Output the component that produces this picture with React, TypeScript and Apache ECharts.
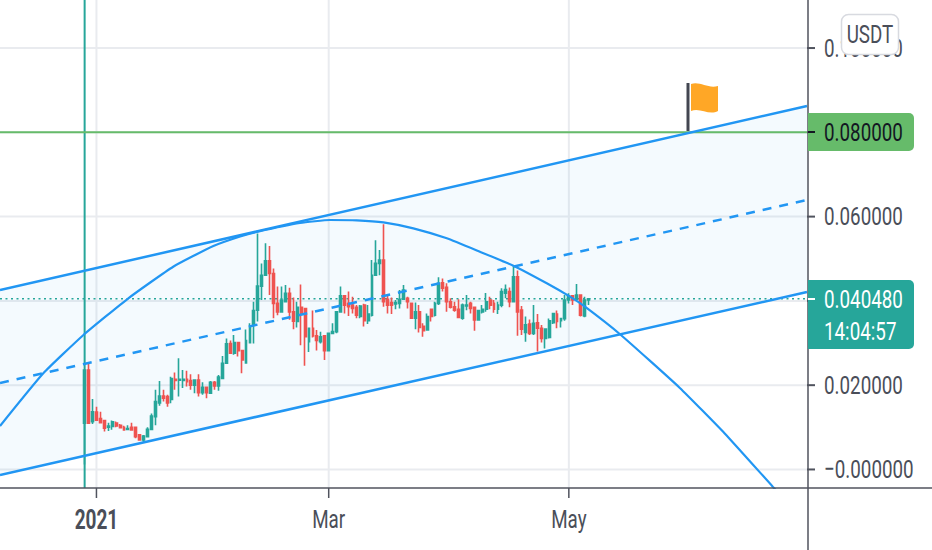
import React, { useEffect, useRef } from "react";
import * as echarts from "echarts";

// [open, close, low, high]
const candles: number[][] = [
  [0.01095,0.0236,0.0012,0.0236],[0.0236,0.011,0.011,0.0252],[0.01135,0.0137,0.0108,0.0167],[0.0136,0.0117,0.0117,0.0149],
  [0.0121,0.0111,0.011,0.0137],[0.0116,0.0098,0.009,0.0117],[0.01,0.0103,0.0091,0.0111],[0.0102,0.0113,0.0094,0.0116],
  [0.011,0.0103,0.01,0.0114],[0.0105,0.0099,0.0098,0.0108],[0.01,0.0094,0.0092,0.0104],[0.0095,0.0097,0.0094,0.0105],
  [0.01,0.0094,0.0094,0.0111],[0.01,0.0078,0.0074,0.01],[0.0082,0.007,0.0068,0.0082],[0.007,0.0079,0.0064,0.0082],
  [0.0078,0.0095,0.0078,0.01],[0.0095,0.0127,0.0094,0.0133],[0.0125,0.0161,0.0105,0.0189],[0.0158,0.0174,0.0151,0.021],
  [0.0174,0.0169,0.0161,0.0189],[0.0173,0.0158,0.0149,0.0177],[0.0166,0.0216,0.0157,0.022],[0.0214,0.0211,0.0189,0.023],
  [0.0212,0.0214,0.0173,0.0264],[0.0211,0.0214,0.0193,0.0236],[0.0214,0.0208,0.0197,0.0234],[0.0211,0.02,0.0189,0.0226],
  [0.02,0.0212,0.0181,0.0214],[0.0212,0.0182,0.0173,0.0226],[0.0182,0.0195,0.0177,0.0207],[0.0195,0.0182,0.0169,0.0197],
  [0.0181,0.0207,0.0181,0.021],[0.0207,0.0198,0.0189,0.021],[0.0198,0.0219,0.0187,0.0224],[0.0216,0.0252,0.0216,0.0269],
  [0.0252,0.0298,0.0252,0.0311],[0.0299,0.0276,0.0276,0.0306],[0.0276,0.0301,0.0272,0.0319],[0.0301,0.0282,0.0268,0.0303],
  [0.0282,0.026,0.0228,0.0283],[0.0253,0.0306,0.0253,0.0332],[0.0301,0.034,0.0299,0.0347],[0.0343,0.0377,0.0299,0.0398],
  [0.0378,0.0435,0.0351,0.056],[0.0435,0.0461,0.0402,0.0489],[0.0461,0.0495,0.0461,0.0537],[0.0495,0.0465,0.0414,0.053],
  [0.0465,0.0394,0.0359,0.0477],[0.0394,0.0374,0.0366,0.0434],[0.0374,0.0402,0.0372,0.0434],[0.0398,0.0418,0.0396,0.0438],
  [0.0418,0.0374,0.0355,0.0431],[0.0374,0.0352,0.0333,0.0408],[0.0351,0.0385,0.0337,0.0398],[0.0385,0.037,0.0295,0.0439],
  [0.0382,0.0315,0.0246,0.0382],[0.0303,0.0335,0.0279,0.0337],[0.0335,0.0317,0.0313,0.0377],[0.0317,0.0306,0.0282,0.0331],
  [0.0303,0.0315,0.0299,0.0327],[0.0317,0.0282,0.026,0.0319],[0.0282,0.0323,0.0282,0.0325],[0.0323,0.0327,0.0323,0.0347],
  [0.0327,0.0374,0.0323,0.0374],[0.0374,0.0412,0.0374,0.0434],[0.0412,0.039,0.037,0.0414],[0.0394,0.0386,0.0364,0.0422],
  [0.039,0.0382,0.037,0.041],[0.0385,0.0366,0.0359,0.039],[0.0363,0.0388,0.0359,0.039],[0.039,0.0353,0.0339,0.0393],
  [0.0353,0.0369,0.0345,0.039],[0.0366,0.0461,0.0363,0.0497],[0.0461,0.0489,0.0461,0.0544],[0.0489,0.0497,0.0461,0.0521],
  [0.0497,0.0398,0.0386,0.0582],[0.0404,0.039,0.037,0.0414],[0.0396,0.039,0.0369,0.0408],[0.0393,0.0396,0.038,0.0402],
  [0.0394,0.0404,0.0382,0.0426],[0.0404,0.0426,0.0402,0.0438],[0.0406,0.0398,0.0382,0.041],[0.0394,0.0359,0.0359,0.0394],
  [0.0359,0.0374,0.0333,0.0396],[0.0374,0.0337,0.0325,0.039],[0.034,0.0329,0.0315,0.0347],[0.0331,0.0363,0.0329,0.037],
  [0.038,0.0363,0.0351,0.0382],[0.0366,0.0394,0.0363,0.0398],[0.0394,0.0442,0.039,0.0456],[0.0443,0.043,0.0422,0.0453],
  [0.0432,0.0398,0.0374,0.0442],[0.0398,0.0385,0.0382,0.0406],[0.0386,0.0378,0.0374,0.0398],[0.038,0.0361,0.0359,0.0404],
  [0.0359,0.039,0.0355,0.0394],[0.0388,0.039,0.0378,0.0414],[0.0394,0.0382,0.037,0.0398],[0.0385,0.0355,0.0329,0.0386],
  [0.0355,0.0377,0.0353,0.0378],[0.0374,0.038,0.037,0.039],[0.038,0.0398,0.0374,0.0419],[0.0402,0.039,0.038,0.041],
  [0.0394,0.038,0.0372,0.0402],[0.038,0.039,0.0369,0.0398],[0.039,0.0422,0.0385,0.043],[0.0418,0.0427,0.0406,0.0439],
  [0.0422,0.0398,0.0385,0.0432],[0.0398,0.0457,0.0398,0.0483],[0.0457,0.0374,0.0317,0.0472],[0.0378,0.0333,0.0319,0.0388],
  [0.0325,0.0343,0.0303,0.0363],[0.0345,0.0323,0.0319,0.0356],[0.0323,0.0347,0.0319,0.039],[0.0348,0.0335,0.028,0.0369],
  [0.0335,0.0311,0.0301,0.0343],[0.0311,0.0333,0.0287,0.0335],[0.0313,0.0353,0.0311,0.0358],[0.0348,0.037,0.0345,0.0372],
  [0.0369,0.0351,0.0335,0.0377],[0.0353,0.0358,0.0337,0.0358],[0.0358,0.0402,0.0353,0.0414],[0.0402,0.0412,0.0394,0.0418],
  [0.0412,0.0402,0.039,0.0414],[0.0404,0.0414,0.0402,0.044],[0.0414,0.0366,0.0363,0.0414],[0.0364,0.0402,0.0361,0.041],
  [0.0402,0.0405,0.039,0.0406],
];

const firstCandleIndex = 21;
const dayCount = 205;
const yTicks = [0, 0.02, 0.04, 0.06, 0.08, 0.1];
// 0.04 and 0.08 are covered by the price boxes in the reference
const yLabelValues = [0, 0.02, 0.06, 0.1];
const yLabelTexts = ["\u22120.000000", "0.020000", "0.060000", "0.100000"];
const xTickPositions = [24.5, 83.5, 144.5];
const xLabelTexts = ["2021", "Mar", "May"];

// value of each trend line at the left and right edge of the plot
const channelUpper = [0.04259, 0.08624];
const channelMiddle = [0.02052, 0.06394];
const channelLower = [-0.0013, 0.04211];
const targetPrice = 0.08;
const lastPrice = 0.04048;
const markerDay = 21.5;
const arcPoints: number[][] = [
  [0, 0.01032], [11, 0.02282], [21.2, 0.03191], [32.6, 0.04062], [44, 0.04811], [54.2, 0.05302],
  [61, 0.05528], [65.5, 0.05642], [76.2, 0.05848], [83.8, 0.05919], [90.6, 0.05912], [97.4, 0.05865],
  [105, 0.05722], [113.5, 0.05485], [121.9, 0.05167], [130.4, 0.04835], [138.9, 0.04418], [144.8, 0.041],
  [148.6, 0.03862], [157.5, 0.03208], [172.7, 0.01934], [184.1, 0.00854], [196.3, -0.00408], [199.4, -0.00724],
];

const Y_MIN = -0.0044;
const Y_MAX = 0.1114;
const GREEN = "#26a69a";
const RED = "#ef5350";
const BLUE = "#2196f3";
const TEXT = "#4a4e59";
const AXIS = "#50535e";
const GRIDLINE = "#e9ebef";
const FONT = "Roboto, sans-serif";
const FONT_SIZE = 18.8;
const TEXT_STRETCH = 1.42;

echarts.graphic.registerShape(
  "flag",
  echarts.graphic.extendPath("M0 1C9 -2 17 6 27 3L27 28C18 33 9 24 0 28Z", {}) as any
);

const overlay = (name: string, data: number[][], color: string, width: number, extra: any = {}) => ({
  name, type: "line", xAxisIndex: 1, data, showSymbol: false, symbol: "none", silent: true,
  lineStyle: { color, width, ...(extra.lineStyle || {}) }, z: extra.z ?? 5, smooth: extra.smooth ?? false,
});
const edge = (v: number[]) => [[0, v[0]], [dayCount, v[1]]];

const label = (text: string, x: number, y: number, fill: string, extra: any = {}) => ({
  type: "text", x, y, scaleY: TEXT_STRETCH, z: 101,
  style: {
    text, fill, fontSize: extra.fontSize ?? FONT_SIZE, fontFamily: FONT, fontWeight: extra.fontWeight ?? 400,
    align: extra.align ?? "left", verticalAlign: "middle",
  },
});

const priceBox = (y: number, h: number, fill: string, lines: { text: string; cy: number; color: string }[], tick: string, tickY: number) => [
  { type: "rect", z: 100, shape: { x: 808, y, width: 106, height: h, r: [0, 5, 5, 0] }, style: { fill } },
  { type: "line", z: 101, shape: { x1: 808, y1: tickY, x2: 815, y2: tickY }, style: { stroke: tick, lineWidth: 2 } },
  ...lines.map((l) => label(l.text, 824, l.cy, l.color)),
];

export default function App() {
  const ref = useRef<HTMLDivElement>(null);
  useEffect(() => {
    document.body.style.margin = "0";
    const chart = echarts.init(ref.current!, undefined, { renderer: "svg" });
    chart.setOption({
      animation: false,
      backgroundColor: "#ffffff",
      grid: { left: 0, top: 0, width: 807, height: 488, containLabel: false, outerBoundsMode: "none" },
      xAxis: [
        {
          type: "category", data: Array.from({ length: dayCount }, (_, i) => String(i)), boundaryGap: true,
          axisLine: { show: false }, axisTick: { show: false }, axisLabel: { show: false }, splitLine: { show: false },
        },
        { type: "value", min: 0, max: dayCount, show: false, splitLine: { show: false } },
      ],
      yAxis: {
        type: "value", position: "right", min: Y_MIN, max: Y_MAX,
        axisLine: { show: false }, axisTick: { show: false }, axisLabel: { show: false }, splitLine: { show: false },
      },
      series: [
        ...yTicks.map((v) => overlay("grid" + v, [[0, v], [dayCount, v]], GRIDLINE, 2, { z: 1 })),
        ...xTickPositions.map((d) => overlay("vgrid" + d, [[d, Y_MIN], [d, Y_MAX]], GRIDLINE, 2, { z: 1 })),
        {
          type: "custom", xAxisIndex: 1, silent: true, z: 2, data: [[0]],
          renderItem: (_: any, api: any) => ({
            type: "polygon",
            shape: {
              points: [
                api.coord([0, channelUpper[0]]), api.coord([dayCount, channelUpper[1]]),
                api.coord([dayCount, channelLower[1]]), api.coord([0, channelLower[0]]),
              ],
            },
            style: { fill: "rgba(33,150,243,0.05)" },
          }),
        },
        {
          type: "candlestick", z: 4, barWidth: 2.4, silent: true,
          data: [...Array(firstCandleIndex).fill("-"), ...candles],
          itemStyle: { color: GREEN, color0: RED, borderColor: GREEN, borderColor0: RED, borderWidth: 1.6 },
        },
        overlay("last", [[0, lastPrice], [dayCount, lastPrice]], GREEN, 1.5, { lineStyle: { type: [2, 3.5] }, z: 3 }),
        overlay("marker", [[markerDay, Y_MIN], [markerDay, Y_MAX]], GREEN, 2),
        overlay("target", [[0, targetPrice], [dayCount, targetPrice]], "#66bb6a", 2),
        overlay("upper", edge(channelUpper), BLUE, 2.5),
        overlay("middle", edge(channelMiddle), BLUE, 2.5, { lineStyle: { type: [9, 8] } }),
        overlay("lower", edge(channelLower), BLUE, 2.5),
        overlay("arc", arcPoints, BLUE, 2.2, { smooth: 0.15 }),
        {
          name: "yTicks", type: "custom", xAxisIndex: 1, silent: true, z: 6, clip: false,
          data: yTicks.map((v) => [dayCount, v]),
          renderItem: (_: any, api: any) => {
            const p = api.coord([api.value(0), api.value(1)]);
            return { type: "line", shape: { x1: p[0], y1: p[1], x2: p[0] + 8, y2: p[1] }, style: { stroke: AXIS, lineWidth: 2 } };
          },
        },
        {
          name: "yLabels", type: "custom", xAxisIndex: 1, silent: true, z: 6, clip: false,
          data: yLabelValues.map((v) => [dayCount, v]),
          renderItem: (params: any, api: any) => {
            const p = api.coord([api.value(0), api.value(1)]);
            return label(yLabelTexts[params.dataIndex], p[0] + 17, p[1], TEXT);
          },
        },
        {
          name: "xTicks", type: "custom", xAxisIndex: 1, silent: true, z: 6, clip: false,
          data: xTickPositions.map((d) => [d, Y_MIN]),
          renderItem: (_: any, api: any) => {
            const p = api.coord([api.value(0), api.value(1)]);
            return { type: "line", shape: { x1: p[0], y1: p[1], x2: p[0], y2: p[1] + 10 }, style: { stroke: AXIS, lineWidth: 1.5 } };
          },
        },
        {
          name: "xLabels", type: "custom", xAxisIndex: 1, silent: true, z: 6, clip: false,
          data: xTickPositions.map((d) => [d, Y_MIN]),
          renderItem: (params: any, api: any) => {
            const p = api.coord([api.value(0), api.value(1)]);
            const t = xLabelTexts[params.dataIndex];
            return label(t, p[0], p[1] + 31.5, TEXT, {
              align: "center",
              fontWeight: t === "2021" ? 700 : 400,
              fontSize: t === "2021" ? 19 : FONT_SIZE,
            });
          },
        },
      ],
      graphic: [
        { type: "line", z: 99, shape: { x1: 808, y1: 0, x2: 808, y2: 550 }, style: { stroke: AXIS, lineWidth: 1.5 } },
        { type: "line", z: 99, shape: { x1: 0, y1: 488, x2: 932, y2: 488 }, style: { stroke: AXIS, lineWidth: 1.5 } },
        ...priceBox(113, 38, "#66bb6a", [{ text: "0.080000", cy: 132, color: "#131722" }], "#131722", 132),
        ...priceBox(280, 69, GREEN, [
          { text: "0.040480", cy: 299, color: "#ffffff" },
          { text: "14:04:57", cy: 331, color: "#ffffff" },
        ], "#ffffff", 299),
        { type: "rect", z: 102, shape: { x: 841.5, y: 14.5, width: 57, height: 40, r: 7 }, style: { fill: "#ffffff", stroke: "#d8dae0", lineWidth: 1.5 } },
        { ...label("USDT", 870, 34, TEXT, { align: "center" }), z: 103 },
        { type: "rect", z: 50, shape: { x: 686.5, y: 83, width: 3, height: 48 }, style: { fill: "#434651" } },
        { type: "flag", z: 50, x: 691, y: 83, style: { fill: "#ffa726" } },
      ],
    });
    return () => chart.dispose();
  }, []);
  return <div ref={ref} style={{ width: 932, height: 550 }} />;
}
